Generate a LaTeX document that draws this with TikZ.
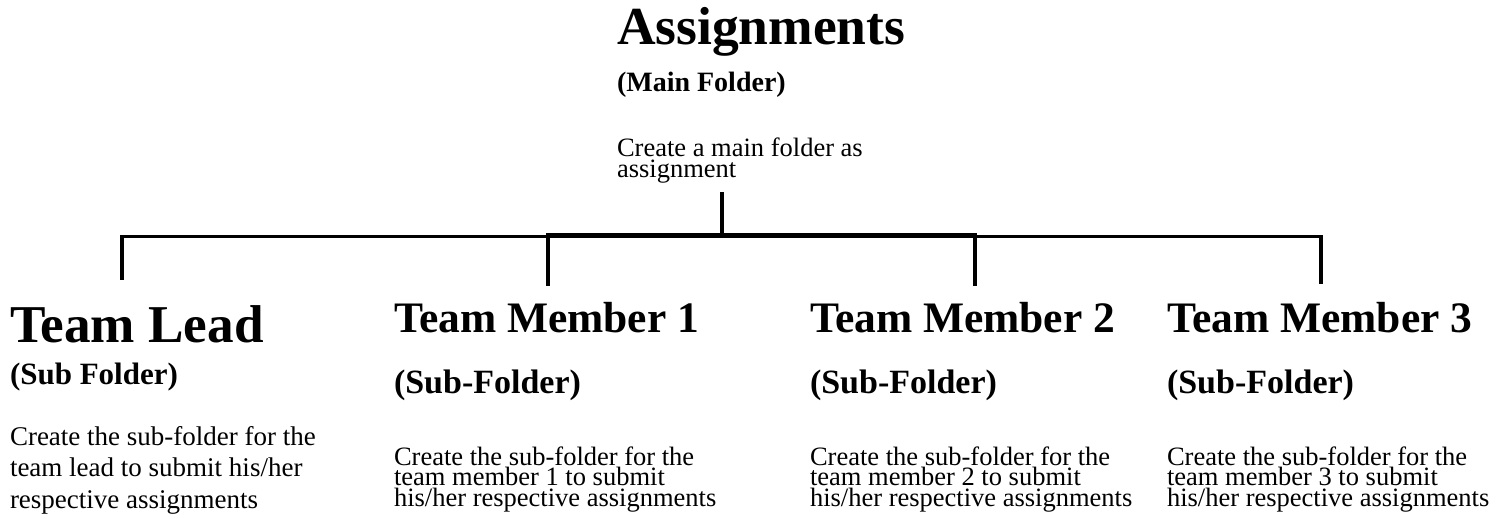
\documentclass[tikz,border=0pt]{standalone}
\usepackage{fontspec}
\setmainfont{Liberation Serif}
\begin{document}
\begin{tikzpicture}[x=1pt,y=-1pt,
  txt/.style={inner sep=0pt, outer sep=0pt, anchor=base west, align=left},
  rootttl/.style={txt, font=\bfseries\fontsize{53.5}{53.5}\selectfont},
  leadttl/.style={txt, font=\bfseries\fontsize{53.2}{53.2}\selectfont},
  memttl/.style={txt, font=\bfseries\fontsize{43.5}{43.5}\selectfont},
  rootsub/.style={txt, font=\bfseries\fontsize{28}{28}\selectfont},
  leadsub/.style={txt, font=\bfseries\fontsize{31}{31}\selectfont},
  memsub/.style={txt, font=\bfseries\fontsize{34}{34}\selectfont},
  rootdesc/.style={txt, font=\fontsize{26.5}{20.5}\selectfont},
  leaddesc/.style={txt, font=\fontsize{27}{31.5}\selectfont},
  memdesc/.style={txt, font=\fontsize{26.5}{20.5}\selectfont},
  conn/.style={line width=3.5pt, black},
  connmid/.style={line width=4.5pt, black}]
\useasboundingbox (0,0) rectangle (1507,519);

% root (multi-line nodes are placed by the baseline of their last line)
\node[rootttl] (asg) at (617,45) {Assignments};
\node[rootsub] (asgsub) at (617,92) {(Main Folder)};
\node[rootdesc] (asgdesc) at (617,177) {Create a main folder as\\assignment};

% team lead
\node[leadttl] (tl) at (10,342) {Team Lead};
\node[leadsub] (tlsub) at (10,384) {(Sub Folder)};
\node[leaddesc] (tldesc) at (10,508) {Create the sub-folder for the\\team lead to submit his/her\\respective assignments};

% team member 1
\node[memttl] (m1) at (394,332) {Team Member 1};
\node[memsub] (m1sub) at (394,393) {(Sub-Folder)};
\node[memdesc] (m1desc) at (394,506) {Create the sub-folder for the\\team member 1 to submit\\his/her respective assignments};

% team member 2
\node[memttl] (m2) at (810,332) {Team Member 2};
\node[memsub] (m2sub) at (810,393) {(Sub-Folder)};
\node[memdesc] (m2desc) at (810,506) {Create the sub-folder for the\\team member 2 to submit\\his/her respective assignments};

% team member 3
\node[memttl] (m3) at (1167,332) {Team Member 3};
\node[memsub] (m3sub) at (1167,393) {(Sub-Folder)};
\node[memdesc] (m3desc) at (1167,506) {Create the sub-folder for the\\team member 3 to submit\\his/her respective assignments};

% connector points
\coordinate (root) at (722,192);
\coordinate (j) at (722,236.5);
\coordinate (jm) at (722,235);
\coordinate (c0) at (122,280);
\coordinate (c1) at (548,286);
\coordinate (c2) at (975,286);
\coordinate (c3) at (1321,284);

\draw[conn] (j) -| (c0);
\draw[conn] (j) -| (c3);
\draw[connmid] (jm) -| (c1);
\draw[connmid] (jm) -| (c2);
\draw[conn] (root) -- (jm);
\end{tikzpicture}
\end{document}
